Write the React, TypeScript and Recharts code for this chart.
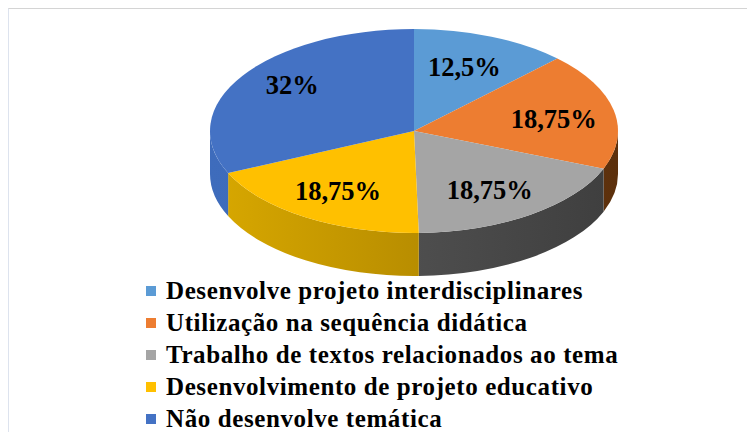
import React from 'react';
import { PieChart, Pie, Cell, Legend } from 'recharts';

const categories = [
  'Desenvolve projeto interdisciplinares',
  'Utilização na sequência didática',
  'Trabalho de textos relacionados ao tema',
  'Desenvolvimento de projeto educativo',
  'Não desenvolve temática',
];
const values = [12.5, 18.75, 18.75, 18.75, 32];
const valueLabels = ['12,5%', '18,75%', '18,75%', '18,75%', '32%'];
const colors = ['#5b9bd5', '#ed7d31', '#a5a5a5', '#ffc000', '#4472c4'];
const sideLight = ['#4a80b8', '#7a4216', '#5e5e5e', '#d8a800', '#3e6cbc'];
const sideDark = ['#3a6aa0', '#5c300c', '#3e3e3e', '#9a7400', '#3560ae'];

const data = categories.map((name, i) => ({ name, value: values[i], label: valueLabels[i], idx: i }));

const RATIO = 0.5;
const DEPTH = 43;
const RAD = Math.PI / 180;

const pt = (cx: number, cy: number, rx: number, ry: number, a: number) => [
  cx + rx * Math.cos(a * RAD),
  cy - ry * Math.sin(a * RAD),
];

const Slice3D = (props: any) => {
  const { cx, cy, outerRadius, startAngle, endAngle, payload, index } = props;
  const idx = payload && payload.idx !== undefined ? payload.idx : index;
  const rx = outerRadius;
  const ry = outerRadius * RATIO;
  const s = Math.max(startAngle, endAngle);
  const e = Math.min(startAngle, endAngle);
  const [x1, y1] = pt(cx, cy, rx, ry, s);
  const [x2, y2] = pt(cx, cy, rx, ry, e);
  const large = s - e > 180 ? 1 : 0;
  const top = `M${cx},${cy} L${x1},${y1} A${rx},${ry} 0 ${large} 1 ${x2},${y2} Z`;

  const sides: string[] = [];
  const ranges: [number, number][] = [];
  for (let k = -2; k <= 2; k++) {
    const lo = -180 + 360 * k;
    const hi = 0 + 360 * k;
    const a = Math.max(e, lo);
    const b = Math.min(s, hi);
    if (b > a) ranges.push([a, b]);
  }
  ranges.forEach(([a, b]) => {
    const [ax, ay] = pt(cx, cy, rx, ry, b);
    const [bx, by] = pt(cx, cy, rx, ry, a);
    const lg = b - a > 180 ? 1 : 0;
    sides.push(
      `M${ax},${ay} A${rx},${ry} 0 ${lg} 1 ${bx},${by} L${bx},${by + DEPTH} A${rx},${ry} 0 ${lg} 0 ${ax},${ay + DEPTH} Z`
    );
  });
  const gid = `sideg${idx}`;
  return (
    <g>
      <defs>
        <linearGradient id={gid} x1={cx - rx} x2={cx + rx} y1={0} y2={0} gradientUnits="userSpaceOnUse">
          <stop offset="0%" stopColor={sideLight[idx]} />
          <stop offset="100%" stopColor={sideDark[idx]} />
        </linearGradient>
      </defs>
      {sides.map((d, i) => (
        <path key={i} d={d} fill={`url(#${gid})`} stroke="none" />
      ))}
      <path d={top} fill={colors[idx]} stroke="none" />
    </g>
  );
};

const labelPos: [number, number][] = [
  [0.65, 0.68],
  [0.7, 0.55],
  [0.65, 0.7],
  [0.7, 0.7],
  [0.71, 0.83],
];

const renderLabel = (props: any) => {
  const { cx, cy, midAngle, outerRadius, index } = props;
  const rx = outerRadius;
  const ry = outerRadius * RATIO;
  const [fx, fy] = labelPos[index];
  const x = cx + rx * fx * Math.cos(midAngle * RAD);
  const y = cy - ry * fy * Math.sin(midAngle * RAD);
  return (
    <text
      x={x}
      y={y}
      textAnchor="middle"
      dominantBaseline="central"
      fontFamily="'Liberation Serif', 'Times New Roman', serif"
      fontWeight="bold"
      fontSize={26.5}
      fill="#000"
    >
      {valueLabels[index]}
    </text>
  );
};

const renderLegend = () => (
  <div style={{ fontFamily: "'Liberation Serif', 'Times New Roman', serif", fontWeight: 'bold', fontSize: 25 }}>
    {categories.map((c, i) => (
      <div key={c} style={{ height: 32, display: 'flex', alignItems: 'center', whiteSpace: 'nowrap' }}>
        <span style={{ display: 'inline-block', width: 10, height: 10, background: colors[i], marginRight: 10 }} />
        <span style={{ color: '#000', letterSpacing: 0.6 }}>{c}</span>
      </div>
    ))}
  </div>
);

export default function App() {
  return (
    <div
      style={{
        position: 'relative',
        width: 760,
        height: 430,
        borderTop: '1px solid #d4d4d4',
        borderLeft: '1px solid #dde3ee',
        overflow: 'hidden',
        background: '#fff',
      }}
    >
      <PieChart width={746} height={424} margin={{ top: 0, right: 0, bottom: 0, left: 0 }}>
        <Pie
          data={data}
          dataKey="value"
          cx={405}
          cy={122}
          outerRadius={204}
          startAngle={90}
          endAngle={-270}
          isAnimationActive={false}
          label={renderLabel}
          labelLine={false}
          shape={Slice3D}
          activeShape={Slice3D}
          inactiveShape={Slice3D}
          stroke="none"
        >
          {data.map((d, i) => (
            <Cell key={i} fill={colors[i]} />
          ))}
        </Pie>
        <Legend
          content={renderLegend}
          layout="horizontal"
          verticalAlign="bottom"
          align="left"
          wrapperStyle={{ position: 'absolute', left: 137, top: 266, bottom: 'auto', width: 600 }}
        />
      </PieChart>
    </div>
  );
}
